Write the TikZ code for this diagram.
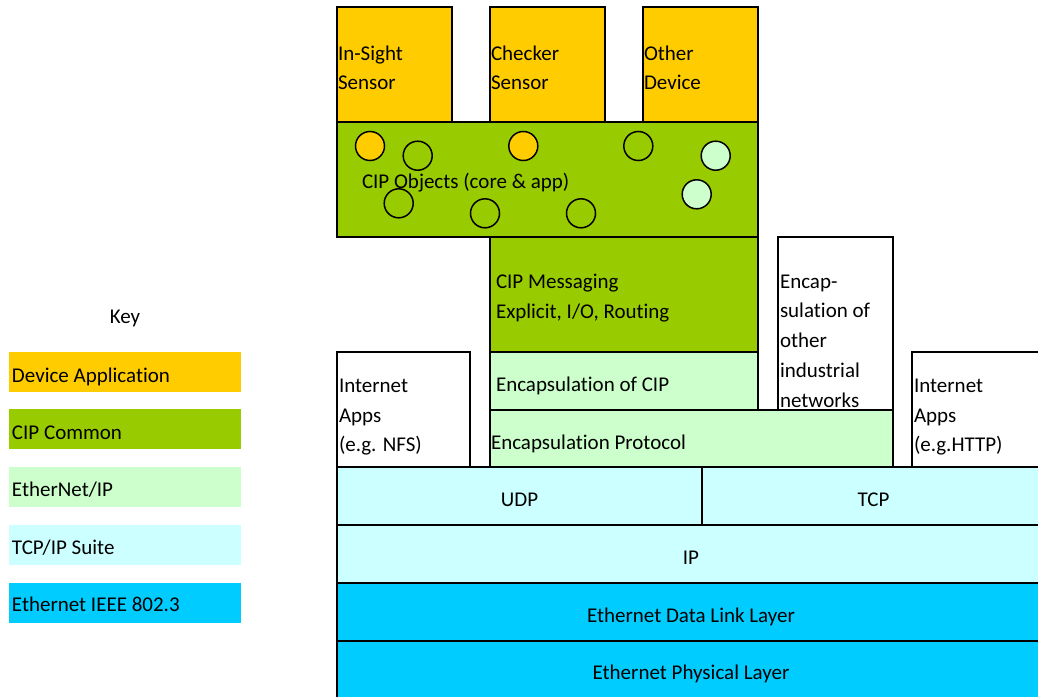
\documentclass[tikz,border=0pt]{standalone}
\usepackage{fontspec}
\setmainfont{Carlito}[Ligatures=NoCommon]
\definecolor{devc}{HTML}{FFCC00}
\definecolor{cipc}{HTML}{99CC00}
\definecolor{enipc}{HTML}{CCFFCC}
\definecolor{tcpc}{HTML}{CCFFFF}
\definecolor{ethc}{HTML}{00CCFF}
\begin{document}
\begin{tikzpicture}[x=1pt,y=-1pt,
  layer/.style={draw=black,line width=1.5pt,rectangle,anchor=north west,inner sep=0pt,outer sep=0pt},
  keybox/.style={rectangle,anchor=north west,inner sep=0pt,outer sep=0pt,draw=none},
  obj/.style={circle,draw=black,line width=1.5pt,minimum size=29pt,inner sep=0pt},
  lbl/.style={font=\fontsize{21}{29.7}\selectfont,inner sep=0pt,outer sep=0pt,align=left,anchor=base west},
  clbl/.style={font=\fontsize{21}{29.7}\selectfont,inner sep=0pt,outer sep=0pt,anchor=base}]
\path[use as bounding box] (0,0) rectangle (1038,696);
\clip (0,0) rectangle (1038,696);
% key
\node[clbl] (keyt) at (125,323) {Key};
\node[keybox,fill=devc,minimum width=232pt,minimum height=40pt] (k1) at (9,352) {};
\node[keybox,fill=cipc,minimum width=232pt,minimum height=40pt] (k2) at (9,409) {};
\node[keybox,fill=enipc,minimum width=232pt,minimum height=40pt] (k3) at (9,467) {};
\node[keybox,fill=tcpc,minimum width=232pt,minimum height=40pt] (k4) at (9,524.5) {};
\node[keybox,fill=ethc,minimum width=232pt,minimum height=40pt] (k5) at (9,582.5) {};
\node[lbl] (k1t) at (12,382.3) {Device Application};
\node[lbl] (k2t) at (12,439.3) {CIP Common};
\node[lbl] (k3t) at (12,496.7) {EtherNet/IP};
\node[lbl] (k4t) at (12,554.3) {TCP/IP Suite};
\node[lbl] (k5t) at (12,611.7) {Ethernet IEEE 802.3};
% device apps
\node[layer,fill=devc,minimum width=115pt,minimum height=115pt] (insight) at (337,7) {};
\node[layer,fill=devc,minimum width=115pt,minimum height=115pt] (checker) at (490,7) {};
\node[layer,fill=devc,minimum width=115pt,minimum height=115pt] (other) at (643,7) {};
\node[lbl] (insightt) at (338,89.7) {In-Sight\\Sensor};
\node[lbl] (checkert) at (491,89.7) {Checker\\Sensor};
\node[lbl] (othert) at (644,89.7) {Other\\Device};
% CIP objects
\node[layer,fill=cipc,minimum width=421pt,minimum height=115pt] (cipobj) at (337,122) {};
\node[obj,fill=devc] (o1) at (370,146) {};
\node[obj,fill=cipc] (o2) at (417.7,155.7) {};
\node[obj,fill=devc] (o3) at (523.3,146) {};
\node[obj,fill=cipc] (o4) at (638.3,146) {};
\node[obj,fill=enipc] (o5) at (715.7,155.7) {};
\node[obj,fill=cipc] (o6) at (398.7,203.3) {};
\node[obj,fill=cipc] (o7) at (485,213.3) {};
\node[obj,fill=cipc] (o8) at (581,213.3) {};
\node[obj,fill=enipc] (o9) at (696.7,194.3) {};
\node[lbl] (cipobjt) at (362,188) {CIP Objects (core \& app)};
% CIP messaging
\node[layer,fill=cipc,minimum width=268pt,minimum height=115pt] (cipmsg) at (490,237) {};
\node[lbl] (cipmsgt) at (496,318) {CIP Messaging\\Explicit, I/O, Routing};
\node[layer,fill=enipc,minimum width=268pt,minimum height=58pt] (enccip) at (490,352) {};
\node[lbl] (enccipt) at (496,391.7) {Encapsulation of CIP};
% other industrial
\node[layer,fill=white,minimum width=115pt,minimum height=173pt] (encoth) at (778,237) {};
\node[lbl] (encotht) at (780,407) {Encap-\\sulation of\\other\\industrial\\networks};
% encapsulation protocol
\node[layer,fill=enipc,minimum width=403pt,minimum height=57pt] (encprot) at (490,410) {};
\node[lbl] (encprott) at (491,449) {Encapsulation Protocol};
% internet apps
\node[layer,fill=white,minimum width=133pt,minimum height=115pt] (nfs) at (337,352) {};
\node[lbl] (nfst) at (339,451.7) {Internet\\Apps\\(e.g. NFS)};
\node[layer,fill=white,minimum width=140pt,minimum height=115pt] (http) at (912,352) {};
\node[lbl] (httpt) at (914,451.7) {Internet\\Apps\\(e.g.HTTP)};
% TCP/IP
\node[layer,fill=tcpc,minimum width=365pt,minimum height=58pt] (udp) at (337,467) {};
\node[layer,fill=tcpc,minimum width=343pt,minimum height=58pt] (tcp) at (702,467) {};
\node[layer,fill=tcpc,minimum width=708pt,minimum height=58pt] (ip) at (337,525) {};
\node[clbl] (udpt) at (519.5,506.7) {UDP};
\node[clbl] (tcpt) at (873.5,506.7) {TCP};
\node[clbl] (ipt) at (691,564) {IP};
% Ethernet
\node[layer,fill=ethc,minimum width=708pt,minimum height=58pt] (dll) at (337,583) {};
\node[layer,fill=ethc,minimum width=708pt,minimum height=70pt] (phy) at (337,641) {};
\node[clbl] (dllt) at (691,622.3) {Ethernet Data Link Layer};
\node[clbl] (phyt) at (691,679) {Ethernet Physical Layer};
\end{tikzpicture}
\end{document}
